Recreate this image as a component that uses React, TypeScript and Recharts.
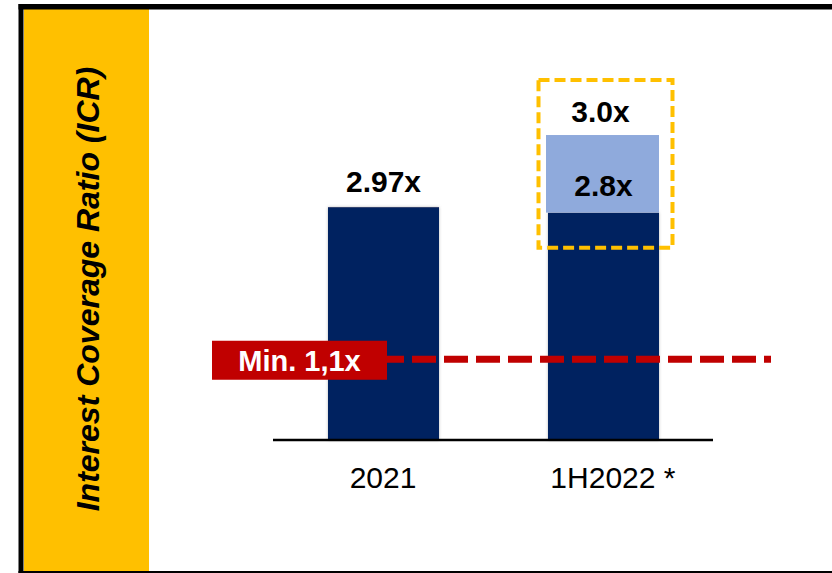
import React from "react";
import { BarChart, Bar, XAxis, YAxis, ReferenceLine } from "recharts";

const categories = ["2021", "1H2022 *"];
const baseValues = [2.97, 2.9];
const upsideValues = [0, 0.99];
const topLabels = ["2.97x", "3.0x"];
const innerLabels = ["", "2.8x"];
const minCovenantValue = 1.03;
const minCovenantLabel = "Min. 1,1x";
const yAxisTitle = "Interest Coverage Ratio (ICR)";

const FONT = '"Liberation Sans", Arial, Helvetica, sans-serif';
const DARK = "#002060";
const LIGHT = "#8FAADC";
const RED = "#C00000";
const GOLD = "#FFC000";

const data = categories.map((c, i) => ({
  category: c,
  base: baseValues[i],
  upside: upsideValues[i] > 0 ? upsideValues[i] : null,
}));

const BaseShape = (props: any) => {
  const { x, y, width, height, index } = props;
  return (
    <g>
      <rect x={x} y={y} width={width} height={height} fill={DARK} filter="url(#barShadow)" />
      {!(upsideValues[index] > 0) && (
        <text
          x={x + width / 2}
          y={y - 15}
          textAnchor="middle"
          fontFamily={FONT}
          fontWeight="bold"
          fontSize={30}
          fill="#000"
        >
          {topLabels[index]}
        </text>
      )}
    </g>
  );
};

const UpsideShape = (props: any) => {
  const { x, y, width, height, index } = props;
  if (!(upsideValues[index] > 0)) return <g />;
  return (
    <g>
      <rect x={x - 2} y={y} width={width + 2} height={height} fill={LIGHT} />
      <rect
        x={x - 9.5}
        y={y - 55}
        width={width + 23}
        height={height + 90}
        fill="none"
        stroke={GOLD}
        strokeWidth={4}
        strokeDasharray="11 5"
      />
      <text
        x={x + width / 2 - 3}
        y={y - 13}
        textAnchor="middle"
        fontFamily={FONT}
        fontWeight="bold"
        fontSize={30}
        fill="#000"
      >
        {topLabels[index]}
      </text>
      <text
        x={x + width / 2}
        y={y + 61}
        textAnchor="middle"
        fontFamily={FONT}
        fontWeight="bold"
        fontSize={30}
        fill="#000"
      >
        {innerLabels[index]}
      </text>
    </g>
  );
};

const MinLabel = (props: any) => {
  const vb = props.viewBox || {};
  const { x, y, width } = vb;
  if (x == null || y == null) return null;
  return (
    <g>
      <line
        x1={x - 53}
        y1={y}
        x2={x + width + 58}
        y2={y}
        stroke={RED}
        strokeWidth={7}
        strokeDasharray="24 8"
      />
      <rect x={x - 61} y={y - 18.5} width={175} height={39} fill={RED} />
      <text
        x={x - 61 + 87.5}
        y={y + 11.5}
        textAnchor="middle"
        fontFamily={FONT}
        fontWeight="bold"
        fontSize={29}
        fill="#fff"
      >
        {minCovenantLabel}
      </text>
    </g>
  );
};

const Tick = (props: any) => {
  const { x, y, payload } = props;
  const v: string = payload.value;
  const starred = v.endsWith(" *");
  return (
    <text
      x={x}
      y={y + 48}
      dx={starred ? "0.33em" : 0}
      textAnchor="middle"
      fontFamily={FONT}
      fontSize={30}
      fill="#000"
    >
      {v}
    </text>
  );
};

export default function App() {
  return (
    <div
      style={{
        position: "absolute",
        left: 0,
        top: 0,
        width: 832,
        height: 573,
        overflow: "hidden",
        background: "#fff",
      }}
    >
      <svg
        width={832}
        height={573}
        style={{ position: "absolute", left: 0, top: 0 }}
      >
        <rect x={24} y={9} width={125} height={562} fill={GOLD} />
        <rect x={18.5} y={4} width={813.5} height={5.5} fill="#000" />
        <rect x={18.5} y={4} width={5} height={569} fill="#000" />
        <rect x={18.5} y={571} width={813.5} height={2} fill="#000" />
        <text
          x={99}
          y={289}
          transform="rotate(-90, 99, 289)"
          textAnchor="middle"
          fontFamily={FONT}
          fontWeight="bold"
          fontStyle="italic"
          fontSize={32}
          fill="#000"
        >
          {yAxisTitle}
        </text>
      </svg>
      <div style={{ position: "absolute", left: 0, top: 0 }}>
        <BarChart
          width={832}
          height={573}
          data={data}
          margin={{ top: 48, right: 119, bottom: 93, left: 273 }}
          barSize={111}
        >
          <defs>
            <filter id="barShadow" x="-10%" y="-10%" width="120%" height="120%">
              <feDropShadow dx="0" dy="0" stdDeviation="1.5" floodColor="#888" floodOpacity="0.6" />
            </filter>
          </defs>
          <XAxis
            dataKey="category"
            height={40}
            tickLine={false}
            tickSize={0}
            tickMargin={0}
            axisLine={{ stroke: "#000", strokeWidth: 2.5 }}
            tick={<Tick />}
            interval={0}
          />
          <YAxis hide domain={[0, 5]} />
          <Bar dataKey="base" stackId="a" fill={DARK} shape={<BaseShape />} isAnimationActive={false} />
          <Bar dataKey="upside" stackId="a" fill={LIGHT} shape={<UpsideShape />} isAnimationActive={false} />
          <ReferenceLine
            y={minCovenantValue}
            stroke="none"
            strokeWidth={0}
            label={<MinLabel />}
          />
        </BarChart>
      </div>
    </div>
  );
}
